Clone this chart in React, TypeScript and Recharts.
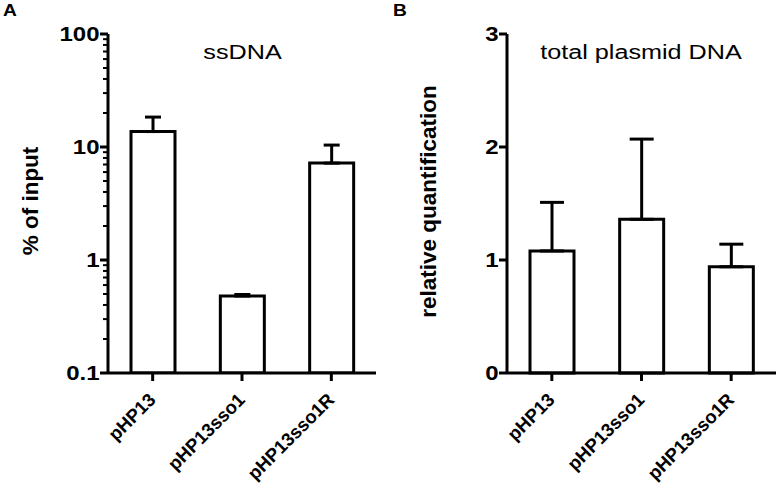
import React from "react"
import { BarChart, Bar, XAxis, YAxis, ErrorBar } from "recharts"

const plasmids = ["pHP13", "pHP13sso1", "pHP13sso1R"]
const ssDnaMean = [13.7, 0.48, 7.2]
const ssDnaSd = [4.7, 0.015, 3.2]
const totalMean = [1.08, 1.36, 0.94]
const totalSd = [0.43, 0.71, 0.2]

const logTicks = [
  0.1, 0.2, 0.3, 0.4, 0.5, 0.6, 0.7, 0.8, 0.9,
  1, 2, 3, 4, 5, 6, 7, 8, 9,
  10, 20, 30, 40, 50, 60, 70, 80, 90, 100,
]
const logMajor = [0.1, 1, 10, 100]
const linTicks = [0, 1, 2, 3]

const font = "'Liberation Sans', Arial, sans-serif"

const ssData = plasmids.map((name, i) => ({ name, value: ssDnaMean[i], err: [0, ssDnaSd[i]] }))
const totalData = plasmids.map((name, i) => ({ name, value: totalMean[i], err: [0, totalSd[i]] }))

// y ticks drawn by hand so log minor ticks can be shorter and unlabelled
const YTick = ({ x, y, payload, major }: any) => {
  const isMajor = major.includes(payload.value)
  const len = isMajor ? 8 : 5
  return (
    <g>
      <line x1={x} x2={x - len} y1={y} y2={y} stroke="#000" strokeWidth={isMajor ? 3 : 2} />
      {isMajor && (
        <text
          transform={`translate(${x - 8.5},${y}) scale(1.2,1)`}
          textAnchor="end"
          dy="0.36em"
          fontFamily={font}
          fontWeight="bold"
          fontSize={20}
          fill="#000"
        >
          {payload.value}
        </text>
      )}
    </g>
  )
}

const XTick = ({ x, y, payload }: any) => (
  <text
    transform={`translate(${x + 4},${y + 18}) rotate(-45)`}
    textAnchor="end"
    fontFamily={font}
    fontWeight="bold"
    fontSize={18.5}
    fill="#000"
  >
    {payload.value}
  </text>
)

const axisStyle = { stroke: "#000", strokeWidth: 3 }

export default function App() {
  return (
    <div style={{ position: "absolute", left: 0, top: 0, width: 779, height: 491, background: "#fff" }}>
      <div style={{ position: "absolute", left: 0, top: 0 }}>
        <BarChart width={390} height={491} data={ssData} margin={{ top: 34, right: 14, bottom: 88, left: 0 }}>
          <XAxis
            dataKey="name"
            height={30}
            axisLine={axisStyle}
            tickLine={axisStyle}
            tickSize={8}
            tick={<XTick />}
            interval={0}
          />
          <YAxis
            scale="log"
            domain={[0.1, 100]}
            allowDataOverflow
            ticks={logTicks}
            interval={0}
            width={108}
            axisLine={axisStyle}
            tickLine={false}
            tickSize={0}
            tickMargin={0}
            tick={(p: any) => <YTick {...p} major={logMajor} />}
          />
          <Bar dataKey="value" barSize={44} fill="#fff" stroke="#000" strokeWidth={3} isAnimationActive={false}>
            <ErrorBar dataKey="err" width={8} strokeWidth={3} stroke="#000" direction="y" />
          </Bar>
        </BarChart>
      </div>
      <div style={{ position: "absolute", left: 390, top: 0 }}>
        <BarChart width={389} height={491} data={totalData} margin={{ top: 34, right: 3, bottom: 88, left: 0 }}>
          <XAxis
            dataKey="name"
            height={30}
            axisLine={axisStyle}
            tickLine={axisStyle}
            tickSize={8}
            tick={<XTick />}
            interval={0}
          />
          <YAxis
            domain={[0, 3]}
            ticks={linTicks}
            interval={0}
            width={117}
            axisLine={axisStyle}
            tickLine={false}
            tickSize={0}
            tickMargin={0}
            tick={(p: any) => <YTick {...p} major={linTicks} />}
          />
          <Bar dataKey="value" barSize={44} fill="#fff" stroke="#000" strokeWidth={3} isAnimationActive={false}>
            <ErrorBar dataKey="err" width={12} strokeWidth={3} stroke="#000" direction="y" />
          </Bar>
        </BarChart>
      </div>
      <svg
        width={779}
        height={491}
        style={{ position: "absolute", left: 0, top: 0, pointerEvents: "none" }}
        fontFamily={font}
        fill="#000"
      >
        <text transform="translate(3,16) scale(1.2,1)" fontWeight="bold" fontSize={16}>A</text>
        <text transform="translate(393,16) scale(1.2,1)" fontWeight="bold" fontSize={16}>B</text>
        <text transform="translate(242.5,59) scale(1.2,1)" textAnchor="middle" fontSize={21}>ssDNA</text>
        <text transform="translate(641,59) scale(1.2,1)" textAnchor="middle" fontSize={21}>total plasmid DNA</text>
        <text transform="translate(37.5,201) rotate(-90)" textAnchor="middle" fontWeight="bold" fontSize={22.5}>% of input</text>
        <text transform="translate(435.5,201.5) rotate(-90)" textAnchor="middle" fontWeight="bold" fontSize={22.5}>relative quantification</text>
      </svg>
    </div>
  )
}
